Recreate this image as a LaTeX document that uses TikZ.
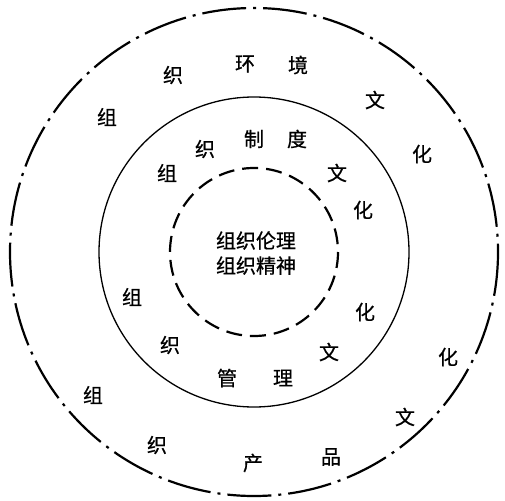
\documentclass[tikz,border=0pt]{standalone}
\usepackage{fontspec}
\newfontfamily\cjk[FakeBold=0.6]{Noto Sans CJK SC}
\tikzset{
    zi/.style={font=\cjk\fontsize{20}{20}\selectfont, inner sep=0pt},
    outerring/.style={line width=2.2pt, dash pattern=on 44pt off 7pt on 3pt off 7pt},
    innerring/.style={line width=2.2pt, dash pattern=on 16pt off 8pt}
}
\begin{document}
\begin{tikzpicture}[x=1pt, y=-1pt]
    \useasboundingbox[fill=white] (0,0) rectangle (505,500);
    \coordinate (o) at (254,252);

    \draw[outerring] (o) circle (244);
    \draw[line width=1.3pt] (o) circle (155);
    \draw[innerring] (o) circle (84);

    % center
    \node[zi, align=center] (core) at (256,253) {组织伦理\\[5pt]组织精神};

    % outer ring
    \node[zi] (h1) at (107,117) {组};
    \node[zi] (h2) at (173,75) {织};
    \node[zi] (h3) at (245,64) {环};
    \node[zi] (h4) at (298,65) {境};
    \node[zi] (h5) at (375,100) {文};
    \node[zi] (h6) at (422,154) {化};
    \node[zi] (p1) at (93,395) {组};
    \node[zi] (p2) at (157,445) {织};
    \node[zi] (p3) at (253,463) {产};
    \node[zi] (p4) at (331,457) {品};
    \node[zi] (p5) at (405,417) {文};
    \node[zi] (p6) at (448,357) {化};

    % middle ring
    \node[zi] (z1) at (167,173) {组};
    \node[zi] (z2) at (205,149) {织};
    \node[zi] (z3) at (254,139) {制};
    \node[zi] (z4) at (297,139) {度};
    \node[zi] (z5) at (337,173) {文};
    \node[zi] (z6) at (363,210) {化};
    \node[zi] (g1) at (132,297) {组};
    \node[zi] (g2) at (170,345) {织};
    \node[zi] (g3) at (227,378) {管};
    \node[zi] (g4) at (283,378) {理};
    \node[zi] (g5) at (329,352) {文};
    \node[zi] (g6) at (365,312) {化};
\end{tikzpicture}
\end{document}
